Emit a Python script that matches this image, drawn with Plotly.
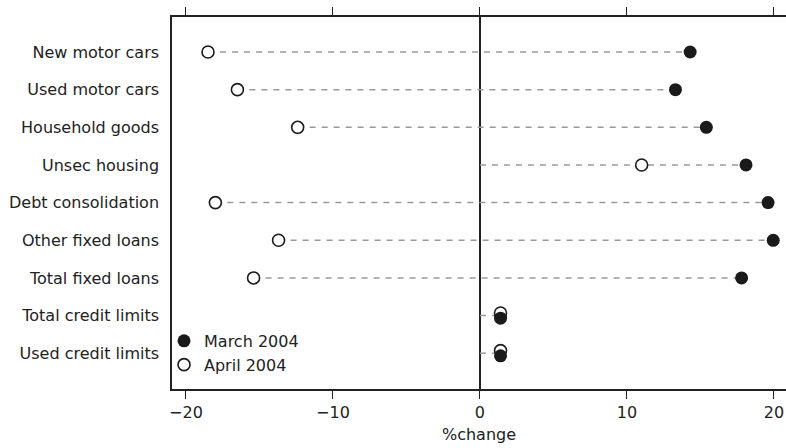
import plotly.graph_objects as go

categories = [
    "New motor cars",
    "Used motor cars",
    "Household goods",
    "Unsec housing",
    "Debt consolidation",
    "Other fixed loans",
    "Total fixed loans",
    "Total credit limits",
    "Used credit limits",
]
march_2004 = [14.3, 13.3, 15.4, 18.1, 19.6, 19.95, 17.8, 1.4, 1.4]
april_2004 = [-18.5, -16.5, -12.4, 11.0, -18.0, -13.7, -15.4, 1.4, 1.4]
x_ticks = [-20, -10, 0, 10, 20]

FONT = "DejaVu Sans, sans-serif"
INK = "#1a1a1a"

fig = go.Figure()

# dashed connectors from zero (or the lower point) to the higher point
ys = list(range(len(categories)))
for y, a, b in zip(ys, march_2004, april_2004):
    lo = min(0, a, b)
    hi = max(0, a, b)
    fig.add_trace(
        go.Scatter(
            x=[lo, hi],
            y=[y, y],
            mode="lines",
            line=dict(color="#9a9a9a", width=1.5, dash="6px,6px"),
            showlegend=False,
            hoverinfo="skip",
        )
    )

# nudge overlapping pairs apart a little, as in the original
dodge = [0.07 if abs(a - b) < 1 else 0 for a, b in zip(march_2004, april_2004)]

fig.add_trace(
    go.Scatter(
        x=april_2004,
        y=[y - d for y, d in zip(ys, dodge)],
        mode="markers",
        name="April 2004",
        marker=dict(color="white", size=12, line=dict(color=INK, width=1.6)),
    )
)
fig.add_trace(
    go.Scatter(
        x=march_2004,
        y=[y + d for y, d in zip(ys, dodge)],
        mode="markers",
        name="March 2004",
        marker=dict(color=INK, size=13, line=dict(color=INK, width=0)),
    )
)

fig.update_layout(
    width=786,
    height=448,
    paper_bgcolor="white",
    plot_bgcolor="white",
    font=dict(family=FONT, size=16, color="#222"),
    margin=dict(l=172, r=0, t=17, b=59),
    showlegend=True,
    legend=dict(
        x=-0.013,
        y=0.019,
        xanchor="left",
        yanchor="bottom",
        traceorder="reversed",
        font=dict(size=16),
        bgcolor="rgba(0,0,0,0)",
        itemwidth=30,
        tracegroupgap=0,
    ),
    xaxis=dict(
        range=[-20.95, 20.82],
        tickvals=x_ticks,
        ticktext=["\u221220", "\u221210", "0", "10", "20"],
        ticks="outside",
        ticklen=8,
        tickwidth=1.3,
        tickcolor="#222",
        showline=True,
        linecolor="#222",
        linewidth=1.5,
        mirror="ticks",
        showgrid=False,
        zeroline=True,
        zerolinecolor="#222",
        zerolinewidth=1.5,
        title=dict(text="%change", font=dict(size=16), standoff=8),
    ),
    yaxis=dict(
        range=[8.95, -0.93],
        tickvals=ys,
        ticktext=categories,
        ticks="",
        ticklabelstandoff=8,
        showline=True,
        linecolor="#222",
        linewidth=1.5,
        mirror=False,
        showgrid=False,
        zeroline=False,
    ),
)

# drop the default body margin so the figure fills the window exactly
fig.write_html(
    "out.html",
    config={"displayModeBar": False},
    post_script="document.body.style.margin='0';document.body.style.overflow='hidden';",
)
